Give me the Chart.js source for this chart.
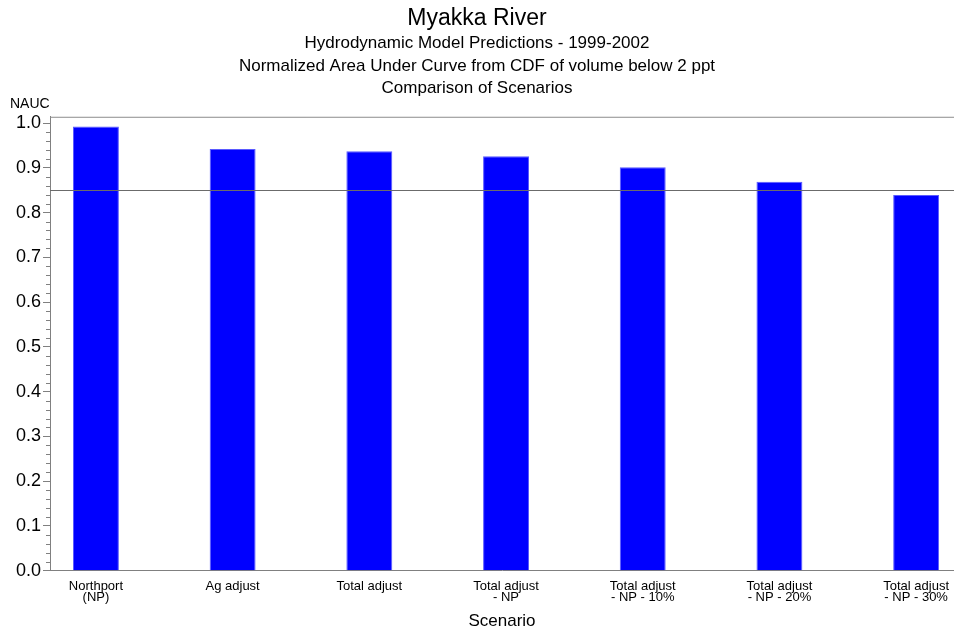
<!DOCTYPE html>
<html>
<head>
<meta charset="utf-8">
<script src="https://cdn.jsdelivr.net/npm/chart.js@4.4.1/dist/chart.umd.min.js"></script>
<style>
  html, body { margin: 0; padding: 0; background: #fff; }
  #wrap { width: 954px; height: 630px; }
</style>
</head>
<body>
<div id="wrap"><canvas id="naucChart" width="954" height="630"></canvas></div>
<script>
// scenarios (x axis), two-line labels like the original
const scenarios = [
    ["Northport", "(NP)"],
    ["Ag adjust"],
    ["Total adjust"],
    ["Total adjust", "- NP"],
    ["Total adjust", "- NP - 10%"],
    ["Total adjust", "- NP - 20%"],
    ["Total adjust", "- NP - 30%"]
];
const nauc = [0.992, 0.942, 0.937, 0.926, 0.901, 0.869, 0.839];
const yTicks = [0.0, 0.1, 0.2, 0.3, 0.4, 0.5, 0.6, 0.7, 0.8, 0.9, 1.0];
const threshold = 0.85;

const FONT = "'Liberation Sans', Arial, Helvetica, sans-serif";

// extra lines: top frame, 0.85 reference, minor ticks, "NAUC" label
const extras = {
    id: "extras",
    afterDatasetsDraw(chart) {
        const { ctx, chartArea, scales } = chart;
        const y = scales.y;
        ctx.save();
        ctx.strokeStyle = "#6b6b6b";
        ctx.lineWidth = 1;
        // reference line
        const ty = Math.round(y.getPixelForValue(threshold)) + 0.5;
        ctx.beginPath();
        ctx.moveTo(chartArea.left, ty);
        ctx.lineTo(chartArea.right, ty);
        ctx.stroke();
        // top frame
        ctx.strokeStyle = "#8c8c8c";
        ctx.beginPath();
        ctx.moveTo(chartArea.left, chartArea.top + 0.5);
        ctx.lineTo(chartArea.right, chartArea.top + 0.5);
        ctx.stroke();
        // minor ticks
        ctx.strokeStyle = "#808080";
        for (let i = 0; i < yTicks.length - 1; i++) {
            for (let k = 1; k < 5; k++) {
                const v = yTicks[i] + (yTicks[i + 1] - yTicks[i]) * k / 5;
                const py = Math.round(y.getPixelForValue(v)) + 0.5;
                ctx.beginPath();
                ctx.moveTo(chartArea.left - 4, py);
                ctx.lineTo(chartArea.left, py);
                ctx.stroke();
            }
        }
        ctx.restore();
    },
    afterDraw(chart) {
        const { ctx, chartArea } = chart;
        ctx.save();
        ctx.fillStyle = "#000";
        ctx.font = "14px " + FONT;
        ctx.textAlign = "left";
        ctx.textBaseline = "middle";
        ctx.fillText("NAUC", 10, chartArea.top - 13);
        ctx.restore();
    }
};

const ctx = document.getElementById("naucChart").getContext("2d");
const naucChart = new Chart(ctx, {
    type: "bar",
    data: {
        datasets: [{
            data: nauc.map((v, i) => ({ x: i, y: v })),
            backgroundColor: "#0000ff",
            borderColor: "#5a5aff",
            borderWidth: 1,
            barPercentage: 0.336,
            categoryPercentage: 1.0
        }]
    },
    options: {
        responsive: false,
        animation: false,
        devicePixelRatio: 1,
        layout: { padding: { left: 0, right: 0, top: 0, bottom: 0 } },
        plugins: {
            legend: { display: false },
            tooltip: { enabled: false },
            title: {
                display: true,
                text: "Myakka River",
                color: "#000",
                font: { family: FONT, size: 23, weight: "normal", lineHeight: 1.15 },
                padding: { top: 5, bottom: 1 }
            },
            subtitle: {
                display: true,
                text: [
                    "Hydrodynamic Model Predictions - 1999-2002",
                    "Normalized Area Under Curve from CDF of volume below 2 ppt",
                    "Comparison of Scenarios"
                ],
                color: "#000",
                font: { family: FONT, size: 17, weight: "normal", lineHeight: 1.32 },
                padding: { top: 0, bottom: 17 }
            }
        },
        scales: {
            x: {
                type: "linear",
                offset: false,
                min: -0.336,
                max: 6.277,
                afterBuildTicks: s => { s.ticks = scenarios.map((c, i) => ({ value: i })); },
                afterFit: s => { s.paddingLeft = 0; s.paddingRight = 0; },
                ticks: {
                    callback: v => scenarios[v],
                    autoSkip: false,
                    maxRotation: 0,
                    color: "#000",
                    padding: 11,
                    font: { family: FONT, size: 13, lineHeight: 0.78 }
                },
                grid: { display: false, drawTicks: false, offset: false },
                border: { display: true, color: "#808080" },
                title: {
                    display: true,
                    text: "Scenario",
                    color: "#000",
                    font: { family: FONT, size: 17, lineHeight: 1.0 },
                    padding: { top: 0, bottom: 0 }
                }
            },
            y: {
                min: 0,
                max: 1.014,
                afterBuildTicks: s => { s.ticks = yTicks.map(v => ({ value: v })); },
                afterFit: s => { s.width = 50; },
                ticks: {
                    callback: v => v.toFixed(1),
                    color: "#000",
                    padding: 2,
                    font: { family: FONT, size: 18 }
                },
                grid: { drawOnChartArea: false, tickLength: 7, color: "#808080" },
                border: { display: true, color: "#808080" }
            }
        }
    },
    plugins: [extras]
});
</script>
</body>
</html>
